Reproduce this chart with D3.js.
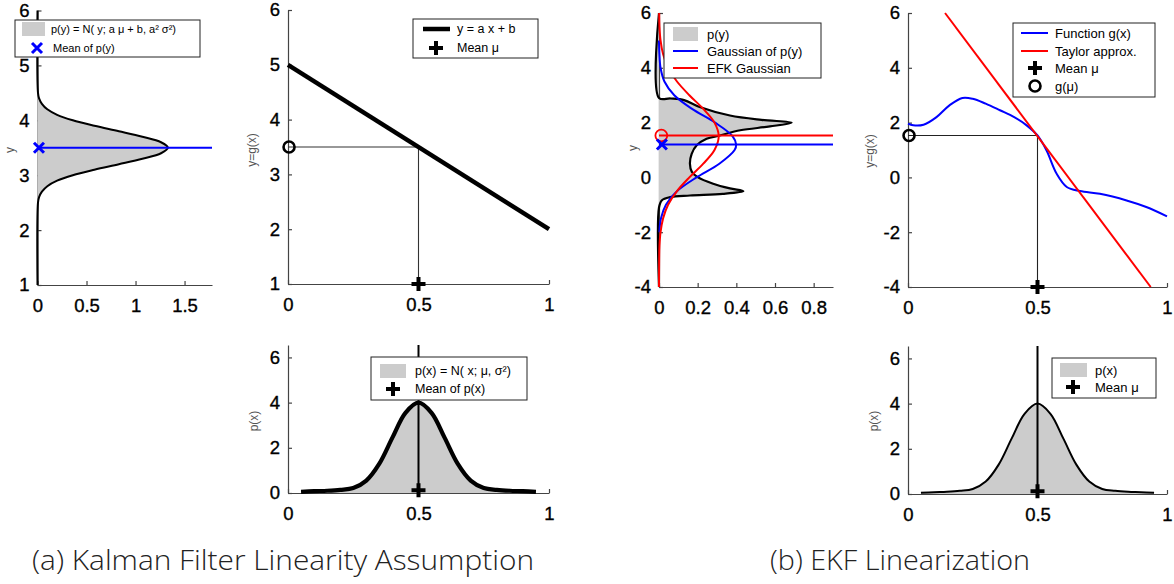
<!DOCTYPE html>
<html>
<head>
<meta charset="utf-8">
<script src="https://cdn.jsdelivr.net/npm/d3@7"></script>
<style>
body { margin: 0; background: #fff; }
svg { display: block; }
.tk text { font-family: "Liberation Sans", Arial, sans-serif; font-size: 18.5px; fill: #000; stroke: #000; stroke-width: 0.35; }
.tk path, .tk line { stroke: #444; stroke-width: 1.2; }
</style>
</head>
<body>
<svg id="fig" width="1174" height="584"></svg>
<script>
// ---- (a) linear case ----
const pyA_y = [1, 2.5, 2.6, 2.7, 2.8, 2.9, 3.0, 3.1, 3.2, 3.3, 3.4, 3.5, 3.6, 3.7, 3.8, 3.9, 4.0, 4.1, 4.2, 4.3, 4.4, 4.5, 6];
const pyA_p = [0, 0.005, 0.016, 0.045, 0.1, 0.2, 0.36, 0.58, 0.83, 1.07, 1.26, 1.33, 1.26, 1.07, 0.83, 0.58, 0.36, 0.2, 0.1, 0.045, 0.016, 0.005, 0];
const meanY_A = 3.5;           // mean of p(y)
const lineX = [0, 1];          // y = a x + b
const lineY = [5, 2];
const mu = 0.5;

// p(x) shared by both bottom plots
const pxX = [0.05, 0.1, 0.15, 0.2, 0.25, 0.3, 0.35, 0.4, 0.45, 0.5, 0.55, 0.6, 0.65, 0.7, 0.75, 0.8, 0.85, 0.9, 0.95];
const pxP = [0.05, 0.08, 0.1, 0.14, 0.22, 0.55, 1.3, 2.45, 3.55, 4.0, 3.55, 2.45, 1.3, 0.55, 0.22, 0.14, 0.1, 0.08, 0.05];
const pxMeanMark = 0.12;

// ---- (b) EKF case ----
const gX = [0, 0.02, 0.06, 0.11, 0.16, 0.21, 0.25, 0.30, 0.355, 0.41, 0.458, 0.5, 0.535, 0.574, 0.613, 0.664, 0.741, 0.844, 0.92, 1.0];
const gY = [1.96, 1.9, 1.92, 2.2, 2.63, 2.9, 2.87, 2.69, 2.45, 2.2, 1.9, 1.53, 0.98, 0.13, -0.35, -0.5, -0.6, -0.84, -1.08, -1.42];
const taylorX = [0.143, 0.937];
const taylorY = [6, -4];
const gMu = 1.53;

// outline of p(y) after the nonlinear map (p, y)
const pyB_p = [0, 0, 0.06, 0.13, 0.21, 0.367, 0.53, 0.686, 0.574, 0.42, 0.315, 0.246, 0.195, 0.169, 0.16, 0.17, 0.2, 0.28, 0.367, 0.436, 0.33, 0.16, 0.057, 0.014, 0, 0];
const pyB_y = [6, 2.9, 2.88, 2.82, 2.57, 2.26, 2.1, 2.0, 1.86, 1.72, 1.53, 1.41, 1.17, 0.86, 0.5, 0.2, 0.01, -0.23, -0.4, -0.5, -0.6, -0.66, -0.72, -0.84, -1.1, -4];
const gaussB_y = [-2, -1.5, -1, -0.5, 0, 0.5, 1, 1.2, 1.5, 2, 2.5, 3, 3.5, 4, 4.5, 5];
const gaussB_p = [0.002, 0.01, 0.036, 0.094, 0.194, 0.312, 0.391, 0.399, 0.381, 0.29, 0.171, 0.079, 0.028, 0.008, 0.002, 0];
const gaussR_y = [-4, -3, -2.5, -2, -1.5, -1, -0.5, 0, 0.5, 1, 1.5, 2, 2.5, 3, 3.5, 4, 4.5, 5, 5.5, 6];
const gaussR_p = [0, 0.001, 0.0025, 0.008, 0.021, 0.047, 0.093, 0.157, 0.229, 0.287, 0.309, 0.287, 0.229, 0.157, 0.093, 0.047, 0.021, 0.008, 0.0025, 0.001];
const meanGauss = 1.2;  // blue
const meanEKF = 1.53;   // red

const captions = ["(a) Kalman Filter Linearity Assumption", "(b) EKF Linearization"];

const svg = d3.select("#fig");
const GRAY = "#cccccc";

function panel(o) {
    const x = d3.scaleLinear().domain(o.xd).range([o.l, o.r]);
    const y = d3.scaleLinear().domain(o.yd).range([o.b, o.t]);
    const g = svg.append("g");
    g.append("g").attr("class", "tk").attr("transform", `translate(0,${o.b})`)
        .call(d3.axisBottom(x).tickValues(o.xt).tickSizeInner(-4).tickSizeOuter(0).tickPadding(14).tickFormat(d => String(d)));
    g.append("g").attr("class", "tk").attr("transform", `translate(${o.l},0)`)
        .call(d3.axisLeft(y).tickValues(o.yt).tickSizeInner(-4).tickSizeOuter(0).tickPadding(8).tickFormat(d => String(d)));
    g.append("text") // y label
        .attr("transform", `translate(${o.lx},${o.ly}) rotate(-90)`)
        .attr("text-anchor", "middle").attr("dy", "0.35em")
        .style("font-family", "Liberation Sans, Arial, sans-serif").style("font-size", "12px").style("fill", "#555")
        .text(o.label);
    return { g, x, y };
}

function marker(g, type, cx, cy, color) {
    const m = g.append("path").attr("transform", `translate(${cx},${cy})`).attr("fill", "none").attr("stroke", color);
    if (type == "plus") m.attr("d", "M-7,0H7M0,-7V7").attr("stroke-width", 4);
    else if (type == "x") m.attr("d", "M-5,-5L5,5M-5,5L5,-5").attr("stroke-width", 3);
    else if (type == "circle") m.attr("d", d3.symbol(d3.symbolCircle, 95)()).attr("stroke-width", 2.6);
    else if (type == "circleR") m.attr("d", d3.symbol(d3.symbolCircle, 110)()).attr("stroke-width", 1.8);
}

function legend(box, fs, items) {
    const g = svg.append("g");
    g.append("rect").attr("x", box[0]).attr("y", box[1]).attr("width", box[2]).attr("height", box[3])
        .attr("fill", "#fff").attr("stroke", "#222").attr("stroke-width", 1);
    items.forEach(it => {
        if (it.kind == "patch")
            g.append("rect").attr("x", it.x0).attr("y", it.y - 7).attr("width", it.x1 - it.x0).attr("height", 14).attr("fill", GRAY);
        else if (it.kind == "line")
            g.append("line").attr("x1", it.x0).attr("x2", it.x1).attr("y1", it.y).attr("y2", it.y)
                .attr("stroke", it.color).attr("stroke-width", it.w);
        else
            marker(g, it.kind, (it.x0 + it.x1) / 2, it.y, it.color);
        g.append("text").attr("x", it.tx).attr("y", it.y).attr("dy", "0.35em")
            .style("font-family", "Liberation Sans, Arial, sans-serif").style("font-size", fs + "px")
            .text(it.text);
    });
}

const vline = (xs, ys) => d3.line().x(d => xs(d[0])).y(d => ys(d[1]));

// ================= (a) =================
// p(y) panel
{
    const P = panel({ l: 37.5, r: 212, t: 10.5, b: 285, xd: [0, 1.78], yd: [1, 6], xt: [0, 0.5, 1, 1.5], yt: [1, 2, 3, 4, 5, 6], lx: 10, ly: 150, label: "y" });
    const pts = d3.zip(pyA_p, pyA_y);
    P.g.append("path").datum(pts).attr("fill", GRAY).attr("stroke", "#000").attr("stroke-width", 2)
        .attr("d", d3.line().x(d => P.x(d[0])).y(d => P.y(d[1])).curve(d3.curveCatmullRom.alpha(0.5)));
    P.g.append("line").attr("x1", P.x(0)).attr("x2", P.x(1.78)).attr("y1", P.y(meanY_A)).attr("y2", P.y(meanY_A))
        .attr("stroke", "#0000ff").attr("stroke-width", 2);
    marker(P.g, "x", P.x(0.015), P.y(meanY_A), "#0000ff");
}
// g(x) panel (linear)
{
    const P = panel({ l: 288, r: 549, t: 10, b: 284, xd: [0, 1], yd: [1, 6], xt: [0, 0.5, 1], yt: [1, 2, 3, 4, 5, 6], lx: 252, ly: 150, label: "y=g(x)" });
    const ymu = lineY[0] + (lineY[1] - lineY[0]) * mu;
    P.g.append("path").datum([[0, ymu], [mu, ymu], [mu, 1]]).attr("fill", "none").attr("stroke", "#333").attr("stroke-width", 1.1)
        .attr("d", vline(P.x, P.y));
    P.g.append("path").datum(d3.zip(lineX, lineY)).attr("fill", "none").attr("stroke", "#000").attr("stroke-width", 4.5)
        .attr("d", vline(P.x, P.y));
    marker(P.g, "circle", P.x(0.004), P.y(ymu), "#000");
    marker(P.g, "plus", P.x(mu), P.y(1), "#000");
}
// p(x) panels
function pxPanel(l, r, t, b, lx, thick) {
    const P = panel({ l, r, t, b, xd: [0, 1], yd: [0, 6.55], xt: [0, 0.5, 1], yt: [0, 2, 4, 6], lx, ly: 421, label: "p(x)" });
    const pts = d3.zip(pxX, pxP);
    P.g.append("path").datum(pts).attr("fill", GRAY)
        .attr("d", d3.area().x(d => P.x(d[0])).y0(P.y(0)).y1(d => P.y(d[1])).curve(d3.curveCatmullRom));
    P.g.append("path").datum(pts).attr("fill", "none").attr("stroke", "#000").attr("stroke-width", thick)
        .attr("d", d3.line().x(d => P.x(d[0])).y(d => P.y(d[1])).curve(d3.curveCatmullRom));
    P.g.append("line").attr("x1", P.x(mu)).attr("x2", P.x(mu)).attr("y1", P.y(0)).attr("y2", P.y(6.55))
        .attr("stroke", "#000").attr("stroke-width", 2);
    marker(P.g, "plus", P.x(mu), P.y(pxMeanMark), "#000");
}
pxPanel(288, 549, 345, 493, 254, 4.2);

// ================= (b) =================
{
    const P = panel({ l: 659, r: 833, t: 13, b: 287, xd: [0, 0.9], yd: [-4, 6], xt: [0, 0.2, 0.4, 0.6, 0.8], yt: [-4, -2, 0, 2, 4, 6], lx: 633, ly: 148, label: "y" });
    const cr = d3.curveCatmullRom.alpha(0.5);
    const ln = d3.line().x(d => P.x(d[0])).y(d => P.y(d[1])).curve(cr);
    P.g.append("path").datum(d3.zip(pyB_p, pyB_y)).attr("fill", GRAY).attr("stroke", "#000").attr("stroke-width", 2.2).attr("d", ln);
    P.g.append("path").datum(d3.zip(gaussB_p, gaussB_y)).attr("fill", "none").attr("stroke", "#0000ff").attr("stroke-width", 2).attr("d", ln);
    P.g.append("path").datum(d3.zip(gaussR_p, gaussR_y)).attr("fill", "none").attr("stroke", "#ff0000").attr("stroke-width", 2).attr("d", ln);
    P.g.append("line").attr("x1", P.x(0)).attr("x2", P.x(0.9)).attr("y1", P.y(meanEKF)).attr("y2", P.y(meanEKF)).attr("stroke", "#ff0000").attr("stroke-width", 2);
    P.g.append("line").attr("x1", P.x(0)).attr("x2", P.x(0.9)).attr("y1", P.y(meanGauss)).attr("y2", P.y(meanGauss)).attr("stroke", "#0000ff").attr("stroke-width", 2);
    marker(P.g, "circleR", P.x(0.012), P.y(meanEKF), "#ff0000");
    marker(P.g, "x", P.x(0.015), P.y(meanGauss), "#0000ff");
}
{
    const P = panel({ l: 908, r: 1167, t: 13, b: 287, xd: [0, 1], yd: [-4, 6], xt: [0, 0.5, 1], yt: [-4, -2, 0, 2, 4, 6], lx: 870, ly: 151, label: "y=g(x)" });
    P.g.append("path").datum([[0, gMu], [mu, gMu], [mu, -4]]).attr("fill", "none").attr("stroke", "#222").attr("stroke-width", 1.1)
        .attr("d", vline(P.x, P.y));
    P.g.append("path").datum(d3.zip(gX, gY)).attr("fill", "none").attr("stroke", "#0000ff").attr("stroke-width", 2)
        .attr("d", d3.line().x(d => P.x(d[0])).y(d => P.y(d[1])).curve(d3.curveCatmullRom.alpha(0.5)));
    P.g.append("path").datum(d3.zip(taylorX, taylorY)).attr("fill", "none").attr("stroke", "#ff0000").attr("stroke-width", 2)
        .attr("d", vline(P.x, P.y));
    marker(P.g, "circle", P.x(0.004), P.y(gMu), "#000");
    marker(P.g, "plus", P.x(mu), P.y(-4), "#000");
}
pxPanel(908, 1167, 346, 494, 874, 2);

// ---- legends ----
legend([15, 20, 185, 37], 11, [
    { kind: "patch", x0: 22, x1: 45, y: 29, text: "p(y) = N( y; a \u03bc + b, a\u00b2 \u03c3\u00b2)", tx: 51 },
    { kind: "x", x0: 30, x1: 44, y: 48, color: "#0000ff", text: "Mean of p(y)", tx: 53 }
]);
legend([413, 19, 125, 39], 12.5, [
    { kind: "line", x0: 423, x1: 450, y: 29, color: "#000", w: 4.5, text: "y = a x + b", tx: 457 },
    { kind: "plus", x0: 429, x1: 443, y: 48, color: "#000", text: "Mean \u03bc", tx: 457 }
]);
legend([371, 357, 156, 43], 12.5, [
    { kind: "patch", x0: 380, x1: 406, y: 371, text: "p(x) = N( x; \u03bc, \u03c3\u00b2)", tx: 415 },
    { kind: "plus", x0: 386, x1: 400, y: 389, color: "#000", text: "Mean of p(x)", tx: 415 }
]);
legend([664, 23, 157, 55], 13, [
    { kind: "patch", x0: 673, x1: 698, y: 34, text: "p(y)", tx: 707 },
    { kind: "line", x0: 673, x1: 698, y: 51, color: "#0000ff", w: 2, text: "Gaussian of p(y)", tx: 707 },
    { kind: "line", x0: 673, x1: 698, y: 68, color: "#ff0000", w: 2, text: "EFK Gaussian", tx: 707 }
]);
legend([1013, 23, 142, 74], 13, [
    { kind: "line", x0: 1021, x1: 1048, y: 33, color: "#0000ff", w: 2, text: "Function g(x)", tx: 1055 },
    { kind: "line", x0: 1021, x1: 1048, y: 51, color: "#ff0000", w: 2, text: "Taylor approx.", tx: 1055 },
    { kind: "plus", x0: 1028, x1: 1042, y: 68, color: "#000", text: "Mean \u03bc", tx: 1055 },
    { kind: "circle", x0: 1028, x1: 1042, y: 86, color: "#000", text: "g(\u03bc)", tx: 1055 }
]);
legend([1052, 358, 104, 40], 13, [
    { kind: "patch", x0: 1060, x1: 1087, y: 370, text: "p(x)", tx: 1095 },
    { kind: "plus", x0: 1066, x1: 1080, y: 387, color: "#000", text: "Mean \u03bc", tx: 1095 }
]);

// ---- captions ----
svg.selectAll("text.cap").data(captions).join("text").attr("class", "cap")
    .attr("x", (d, i) => i == 0 ? 32 : 770).attr("y", 570)
    .attr("textLength", (d, i) => i == 0 ? 502 : 260).attr("lengthAdjust", "spacingAndGlyphs")
    .style("font-family", "Open Sans, DejaVu Sans, sans-serif").style("font-weight", 300)
    .style("font-size", "28px").style("fill", "#222")
    .text(d => d);
</script>
</body>
</html>
